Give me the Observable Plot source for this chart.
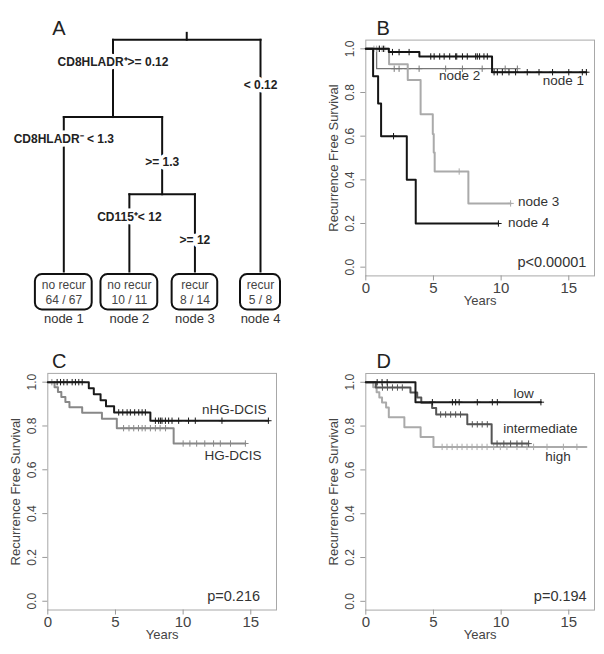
<!DOCTYPE html>
<html><head><meta charset="utf-8">
<script src="https://cdn.jsdelivr.net/npm/d3@7"></script>
<script src="https://cdn.jsdelivr.net/npm/@observablehq/plot@0.6"></script>
<style>
body{margin:0;background:#fff;}
#fig{position:relative;width:604px;height:654px;overflow:hidden;font-family:"Liberation Sans",Arial,sans-serif;}
</style></head><body><div id="fig"></div>
<script>
// ---------- Panel A : decision tree ----------
const treeIds     = ["root", "split1", "node1", "split2", "node2", "node3", "node4"];
const treeParents = [null, "root", "split1", "split1", "split2", "split2", "root"];
const splitLabels = [null, "CD8HLADR⁺>= 0.12", "CD8HLADR⁻ < 1.3", ">= 1.3", "CD115⁺< 12", ">= 12", "< 0.12"];
const leafClass   = {node1: "no recur", node2: "no recur", node3: "recur", node4: "recur"};
const leafCounts  = {node1: "64 / 67", node2: "10 / 11", node3: "8 / 14", node4: "5 / 8"};
const leafNames   = {node1: "node 1", node2: "node 2", node3: "node 3", node4: "node 4"};

// ---------- Panel B : tree nodes ----------
const bNode1Times = [1.7, 3.96, 9.33];
const bNode1Surv  = [0.985, 0.965, 0.893];
const bNode1End   = 16.3;
const bNode1Cens  = [1.0, 1.3, 1.97, 2.46, 3.2, 4.8, 5.05, 5.46, 5.79, 6.2, 6.64, 6.72, 7.14, 7.5, 8.12, 8.24, 8.41, 8.73, 8.98, 9.48, 9.72, 10.09, 10.58, 11.07, 11.93, 12.8, 13.8, 15.0, 16.0, 16.3];
const bNode2Times = [0.8];
const bNode2Surv  = [0.909];
const bNode2End   = 11.2;
const bNode2Cens  = [2.1, 2.46, 3.08, 3.94, 5.9, 7.14, 8.6, 10.3, 11.2];
const bNode3Times = [1.72, 3.1, 4.05, 4.95, 5.02, 5.09, 7.58];
const bNode3Surv  = [0.929, 0.857, 0.7, 0.61, 0.525, 0.438, 0.292];
const bNode3End   = 10.7;
const bNode3Cens  = [0.6, 0.8, 1.0, 1.2, 1.4, 6.9, 10.7];
const bNode4Times = [0.54, 0.91, 1.13, 3.03, 3.69];
const bNode4Surv  = [0.875, 0.75, 0.6, 0.4, 0.2];
const bNode4End   = 9.8;
const bNode4Cens  = [2.05, 9.8];
const bLabels     = ["node 2", "node 1", "node 3", "node 4", "p<0.00001"];
const bLabelT     = [6.94, 14.6, 12.77, 12.03, 13.75];
const bLabelS     = [0.878, 0.855, 0.298, 0.206, 0.023];

// ---------- Panel C : DCIS grade ----------
const cNhgTimes = [3.03, 3.4, 3.9, 4.3, 4.9, 7.58];
const cNhgSurv  = [0.972, 0.945, 0.917, 0.89, 0.862, 0.824];
const cNhgEnd   = 16.3;
const cNhgCens  = [0.69, 0.94, 1.18, 1.43, 1.8, 2.04, 2.29, 2.54, 5.24, 5.54, 5.86, 6.1, 6.42, 6.72, 6.97, 7.21, 7.95, 8.19, 8.32, 8.44, 8.69, 8.93, 9.18, 9.67, 10.4, 10.9, 12.87, 16.3];
const cHgTimes  = [0.5, 0.75, 1.0, 1.3, 1.6, 2.54, 4.0, 5.1, 9.3];
const cHgSurv   = [0.977, 0.955, 0.932, 0.909, 0.886, 0.86, 0.833, 0.79, 0.72];
const cHgEnd    = 14.6;
const cHgCens   = [0.3, 5.6, 6.0, 6.35, 6.7, 6.97, 7.2, 7.58, 7.95, 8.3, 8.7, 10.0, 10.5, 11.0, 11.6, 12.25, 12.75, 13.5, 14.6];
const cLabels   = ["nHG-DCIS", "HG-DCIS", "p=0.216"];
const cLabelT   = [13.78, 13.68, 13.73];
const cLabelS   = [0.874, 0.665, 0.021];

// ---------- Panel D : low / intermediate / high ----------
const dLowTimes = [3.67];
const dLowSurv  = [0.909];
const dLowEnd   = 12.94;
const dLowCens  = [0.84, 1.2, 1.58, 4.92, 6.4, 6.64, 6.9, 8.24, 9.35, 9.72, 12.94];
const dIntTimes = [0.74, 3.3, 3.8, 4.1, 4.9, 5.2, 7.5, 9.3];
const dIntSurv  = [0.976, 0.953, 0.93, 0.907, 0.883, 0.853, 0.808, 0.72];
const dIntEnd   = 12.03;
const dIntCens  = [1.23, 1.6, 1.97, 2.34, 2.7, 5.53, 5.9, 6.27, 6.64, 7.0, 7.87, 8.24, 8.6, 8.98, 9.7, 10.2, 10.7, 11.17, 11.54, 12.03];
const dHighTimes = [0.55, 0.8, 1.0, 1.2, 1.5, 1.7, 2.85, 4.05, 5.0];
const dHighSurv  = [0.977, 0.954, 0.931, 0.908, 0.885, 0.84, 0.795, 0.75, 0.705];
const dHighEnd   = 16.3;
const dHighCens  = [5.64, 6.0, 6.38, 6.75, 7.11, 7.48, 7.85, 8.22, 8.59, 8.96, 9.45, 9.94, 10.43, 11.17, 11.91, 12.4, 13.39, 14.6, 15.6];
const dLabels   = ["low", "intermediate", "high", "p=0.194"];
const dLabelT   = [11.66, 12.9, 14.2, 14.37];
const dLabelS   = [0.947, 0.79, 0.661, 0.023];

const xTicks = [0, 5, 10, 15];
const yTicks = [0, 0.2, 0.4, 0.6, 0.8, 1.0];

const FONT = "'Liberation Sans', Arial, sans-serif";
const fig = document.getElementById("fig");
function place(svg, left, top) {
  svg.style.position = "absolute";
  svg.style.left = left + "px";
  svg.style.top = top + "px";
  svg.style.overflow = "visible";
  fig.appendChild(svg);
}

// ---------- Build panel A ----------
(function () {
  const children = id => treeIds.filter((d, i) => treeParents[i] === id);
  const pos = {};
  let leafIdx = 0;
  function layout(id, depth) {
    const ch = children(id);
    if (!ch.length) { pos[id] = {x: leafIdx++, depth, leaf: true}; return pos[id].x; }
    const xs = ch.map(c => layout(c, depth + 1));
    pos[id] = {x: (xs[0] + xs[xs.length - 1]) / 2, depth, leaf: false};
    return pos[id].x;
  }
  layout("root", 0);
  const leafLevel = d3.max(Object.values(pos).filter(p => !p.leaf), p => p.depth) + 1;
  const nLeaves = leafIdx;
  const xRange = [63.3, 260];
  const pxPerUnit = (xRange[1] - xRange[0]) / (nLeaves - 1);

  const segs = [{x1: pos.root.x, y1: -0.09, x2: pos.root.x, y2: 0}];
  treeIds.forEach((id, i) => {
    const p = treeParents[i];
    if (!p) return;
    segs.push({x1: pos[id].x, y1: pos[p].depth, x2: pos[id].x, y2: pos[id].leaf ? leafLevel : pos[id].depth});
  });
  treeIds.forEach(id => {
    const ch = children(id);
    if (ch.length) segs.push({x1: pos[ch[0]].x, y1: pos[id].depth, x2: pos[ch[ch.length - 1]].x, y2: pos[id].depth});
  });
  const splits = treeIds.map((id, i) => ({id, label: splitLabels[i], parent: treeParents[i]}))
    .filter(d => d.parent)
    .map(d => {
      const left = children(d.parent)[0] === d.id;
      return {...d, x: pos[d.id].x, y: pos[d.parent].depth + (left ? 0.29 : 0.59)};
    });
  const leaves = treeIds.filter(id => pos[id].leaf).map(id => {
    const chars = Math.max(leafClass[id].length, leafCounts[id].length);
    const hw = (chars * 5.6 + 12) / 2 / pxPerUnit;
    return {id, x: pos[id].x, x1: pos[id].x - hw, x2: pos[id].x + hw,
            y1: leafLevel + 0.04, y2: leafLevel + 0.497,
            cls: leafClass[id], n: leafCounts[id], name: leafNames[id]};
  });

  const svg = Plot.plot({
    width: 302, height: 330,
    marginLeft: 0, marginRight: 0, marginTop: 0, marginBottom: 0,
    x: {domain: [0, nLeaves - 1], range: xRange, axis: null},
    y: {domain: [0, leafLevel], range: [39.3, 271], axis: null},
    style: {fontFamily: FONT, background: "transparent", overflow: "visible"},
    marks: [
      Plot.link(segs, {x1: "x1", y1: "y1", x2: "x2", y2: "y2", stroke: "#111", strokeWidth: 2, strokeLinecap: "square"}),
      Plot.text(splits, {x: "x", y: "y", text: "label", fontWeight: "bold", fontSize: 12, fill: "#222",
                         stroke: "white", strokeWidth: 7, paintOrder: "stroke"}),
      Plot.rect(leaves, {x1: "x1", x2: "x2", y1: "y1", y2: "y2", fill: "white", stroke: "#111", strokeWidth: 2, rx: 7, ry: 7}),
      Plot.text(leaves, {x: "x", y: d => leafLevel + 0.18, text: "cls", fontSize: 12, fill: "#444"}),
      Plot.text(leaves, {x: "x", y: d => leafLevel + 0.365, text: "n", fontSize: 12, fill: "#444"}),
      Plot.text(leaves, {x: "x", y: d => leafLevel + 0.61, text: "name", fontSize: 13, fill: "#333"}),
      Plot.text(["A"], {frameAnchor: "top-left", dx: 58.3, dy: 20.3, fontSize: 20, fill: "#222", textAnchor: "middle"})
    ]
  });
  place(svg, 0, 0);
})();

// ---------- KM panels ----------
function stepData(times, surv, end) {
  return [{t: 0, s: 1}, ...times.map((t, i) => ({t, s: surv[i]})), {t: end, s: surv[surv.length - 1]}];
}
function survAt(times, surv, t) {
  let s = 1;
  times.forEach((tt, i) => { if (tt <= t) s = surv[i]; });
  return s;
}
function kmPanel({curves, labels, letter, letterDx, w, h, m}) {
  const marks = [
    Plot.frame({stroke: "#a8a8a8"}),
    Plot.axisX({ticks: xTicks, tickSize: 5, tickPadding: 1, fontSize: 15, fill: "#444", stroke: "#999", label: null}),
    Plot.axisY({ticks: yTicks, tickSize: 5, tickFormat: () => "", stroke: "#999", label: null}),
    Plot.text(yTicks, {frameAnchor: "left", y: d => d, text: d => d.toFixed(1), rotate: -90, dx: -15.3,
                       textAnchor: "middle", fontSize: 12, fill: "#444"}),
    Plot.text(["Recurrence Free Survival"], {frameAnchor: "left", rotate: -90, dx: -32.3, textAnchor: "middle",
                       fontSize: 13, fill: "#444"}),
    Plot.text(["Years"], {frameAnchor: "bottom", dy: 28.6, fontSize: 13, fill: "#444"}),
    Plot.text([letter], {frameAnchor: "top-left", dx: letterDx, dy: -19.3, fontSize: 20, fill: "#222", textAnchor: "middle"})
  ];
  curves.forEach(c => {
    marks.push(Plot.line(stepData(c.times, c.surv, c.end), {x: "t", y: "s", curve: "step-after", stroke: c.color, strokeWidth: c.width}));
    marks.push(Plot.dot(c.cens.map(t => ({t, s: survAt(c.times, c.surv, t)})),
      {x: "t", y: "s", symbol: "plus", r: 2.2, stroke: c.color, strokeWidth: 1}));
  });
  marks.push(Plot.text(labels.text.map((t, i) => ({t: labels.t[i], s: labels.s[i], text: t})),
    {x: "t", y: "s", text: "text", textAnchor: "middle",
     fontSize: d => d.text.startsWith("p") ? 14.5 : 13.5, fill: "#333"}));
  return Plot.plot({
    width: w, height: h,
    marginLeft: m[0], marginRight: m[1], marginTop: m[2], marginBottom: m[3],
    x: {domain: [0, 16.9]},
    y: {domain: [-0.04, 1.04]},
    style: {fontFamily: FONT, background: "transparent", overflow: "visible"},
    marks
  });
}

place(kmPanel({
  curves: [
    {times: bNode2Times, surv: bNode2Surv, end: bNode2End, cens: bNode2Cens, color: "#777", width: 1.3},
    {times: bNode3Times, surv: bNode3Surv, end: bNode3End, cens: bNode3Cens, color: "#aaa", width: 2},
    {times: bNode1Times, surv: bNode1Surv, end: bNode1End, cens: bNode1Cens, color: "#151515", width: 2},
    {times: bNode4Times, surv: bNode4Surv, end: bNode4End, cens: bNode4Cens, color: "#151515", width: 2}
  ],
  labels: {text: bLabels, t: bLabelT, s: bLabelS},
  letter: "B", letterDx: 17.4,
  w: 302, h: 320, m: [63.3, 10, 39.6, 44.6]
}), 302, 0);

place(kmPanel({
  curves: [
    {times: cHgTimes, surv: cHgSurv, end: cHgEnd, cens: cHgCens, color: "#888", width: 2},
    {times: cNhgTimes, surv: cNhgSurv, end: cNhgEnd, cens: cNhgCens, color: "#1a1a1a", width: 2}
  ],
  labels: {text: cLabels, t: cLabelT, s: cLabelS},
  letter: "C", letterDx: 11.4,
  w: 302, h: 324, m: [47.3, 26, 42.9, 44.5]
}), 0, 330);

place(kmPanel({
  curves: [
    {times: dHighTimes, surv: dHighSurv, end: dHighEnd, cens: dHighCens, color: "#aaa", width: 2},
    {times: dIntTimes, surv: dIntSurv, end: dIntEnd, cens: dIntCens, color: "#555", width: 2},
    {times: dLowTimes, surv: dLowSurv, end: dLowEnd, cens: dLowCens, color: "#1a1a1a", width: 2}
  ],
  labels: {text: dLabels, t: dLabelT, s: dLabelS},
  letter: "D", letterDx: 18,
  w: 302, h: 324, m: [63.3, 10, 43, 44.4]
}), 302, 330);
</script></body></html>
